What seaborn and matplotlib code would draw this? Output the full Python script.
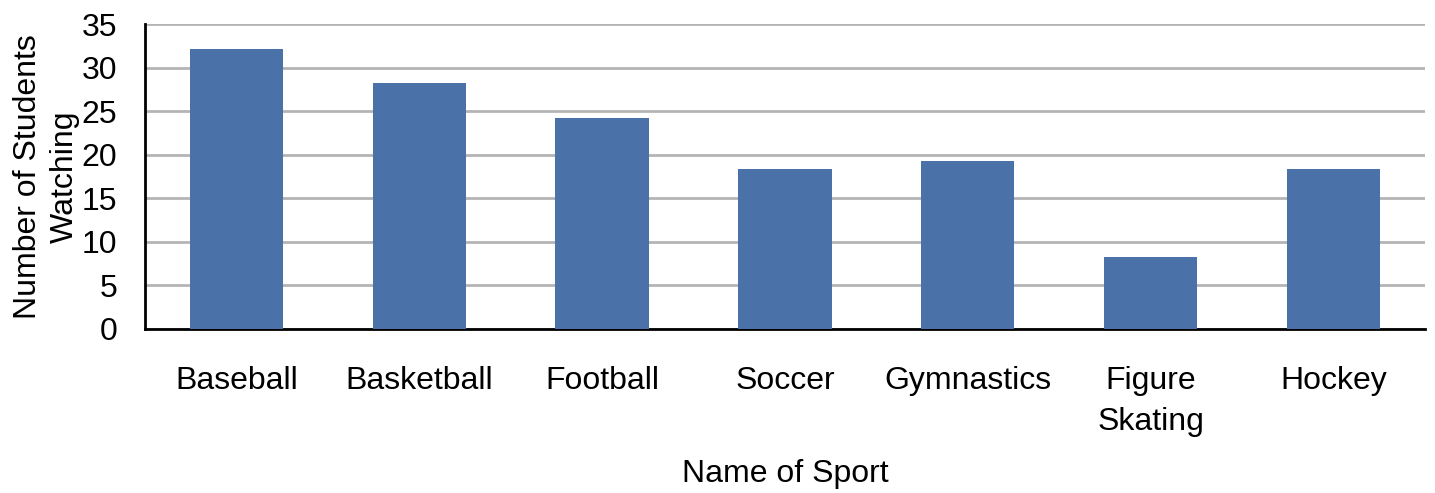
import numpy as np
import pandas as pd
import seaborn as sns
import matplotlib
matplotlib.use('Agg')
import matplotlib.pyplot as plt

# datos
sports = ['Baseball', 'Basketball', 'Football', 'Soccer', 'Gymnastics', 'Figure\nSkating', 'Hockey']
students = [32.2, 28.2, 24.2, 18.4, 19.3, 8.2, 18.4]
y_ticks = [0, 5, 10, 15, 20, 25, 30, 35]

df = pd.DataFrame({'sport': sports, 'students': students})

sns.set_theme(style='white')
plt.rcParams['font.family'] = ['Liberation Sans', 'DejaVu Sans']

fig, ax = plt.subplots(figsize=(14.35, 4.93), dpi=100)
fig.subplots_adjust(left=0.101, right=0.993, bottom=0.333, top=0.951)

sns.barplot(data=df, x='sport', y='students', color='#4A72A8', saturation=1,
            width=0.51, linewidth=0, ax=ax, zorder=3)

ax.set_ylim(0, 35)
ax.set_yticks(y_ticks)
ax.yaxis.grid(True, color='#b4b4b4', linewidth=2, zorder=0)
ax.set_axisbelow(True)

for side in ['top', 'right']:
    ax.spines[side].set_visible(False)
ax.spines['left'].set_color('black')
ax.spines['left'].set_linewidth(2)
ax.spines['bottom'].set_color('black')
ax.spines['bottom'].set_linewidth(2)

ax.tick_params(axis='y', length=0, pad=20, labelsize=23, labelcolor='black')
ax.tick_params(axis='x', length=0, pad=27, labelsize=23, labelcolor='black')
for lbl in ax.get_xticklabels():
    lbl.set_linespacing(1.45)

ax.set_xlabel('Name of Sport', fontsize=23, color='black', labelpad=16)
ax.set_ylabel('Number of Students\nWatching', fontsize=23, color='black', linespacing=1.3)
ax.yaxis.set_label_coords(-0.051, 0.5)

fig.savefig('out.png', dpi=100)
